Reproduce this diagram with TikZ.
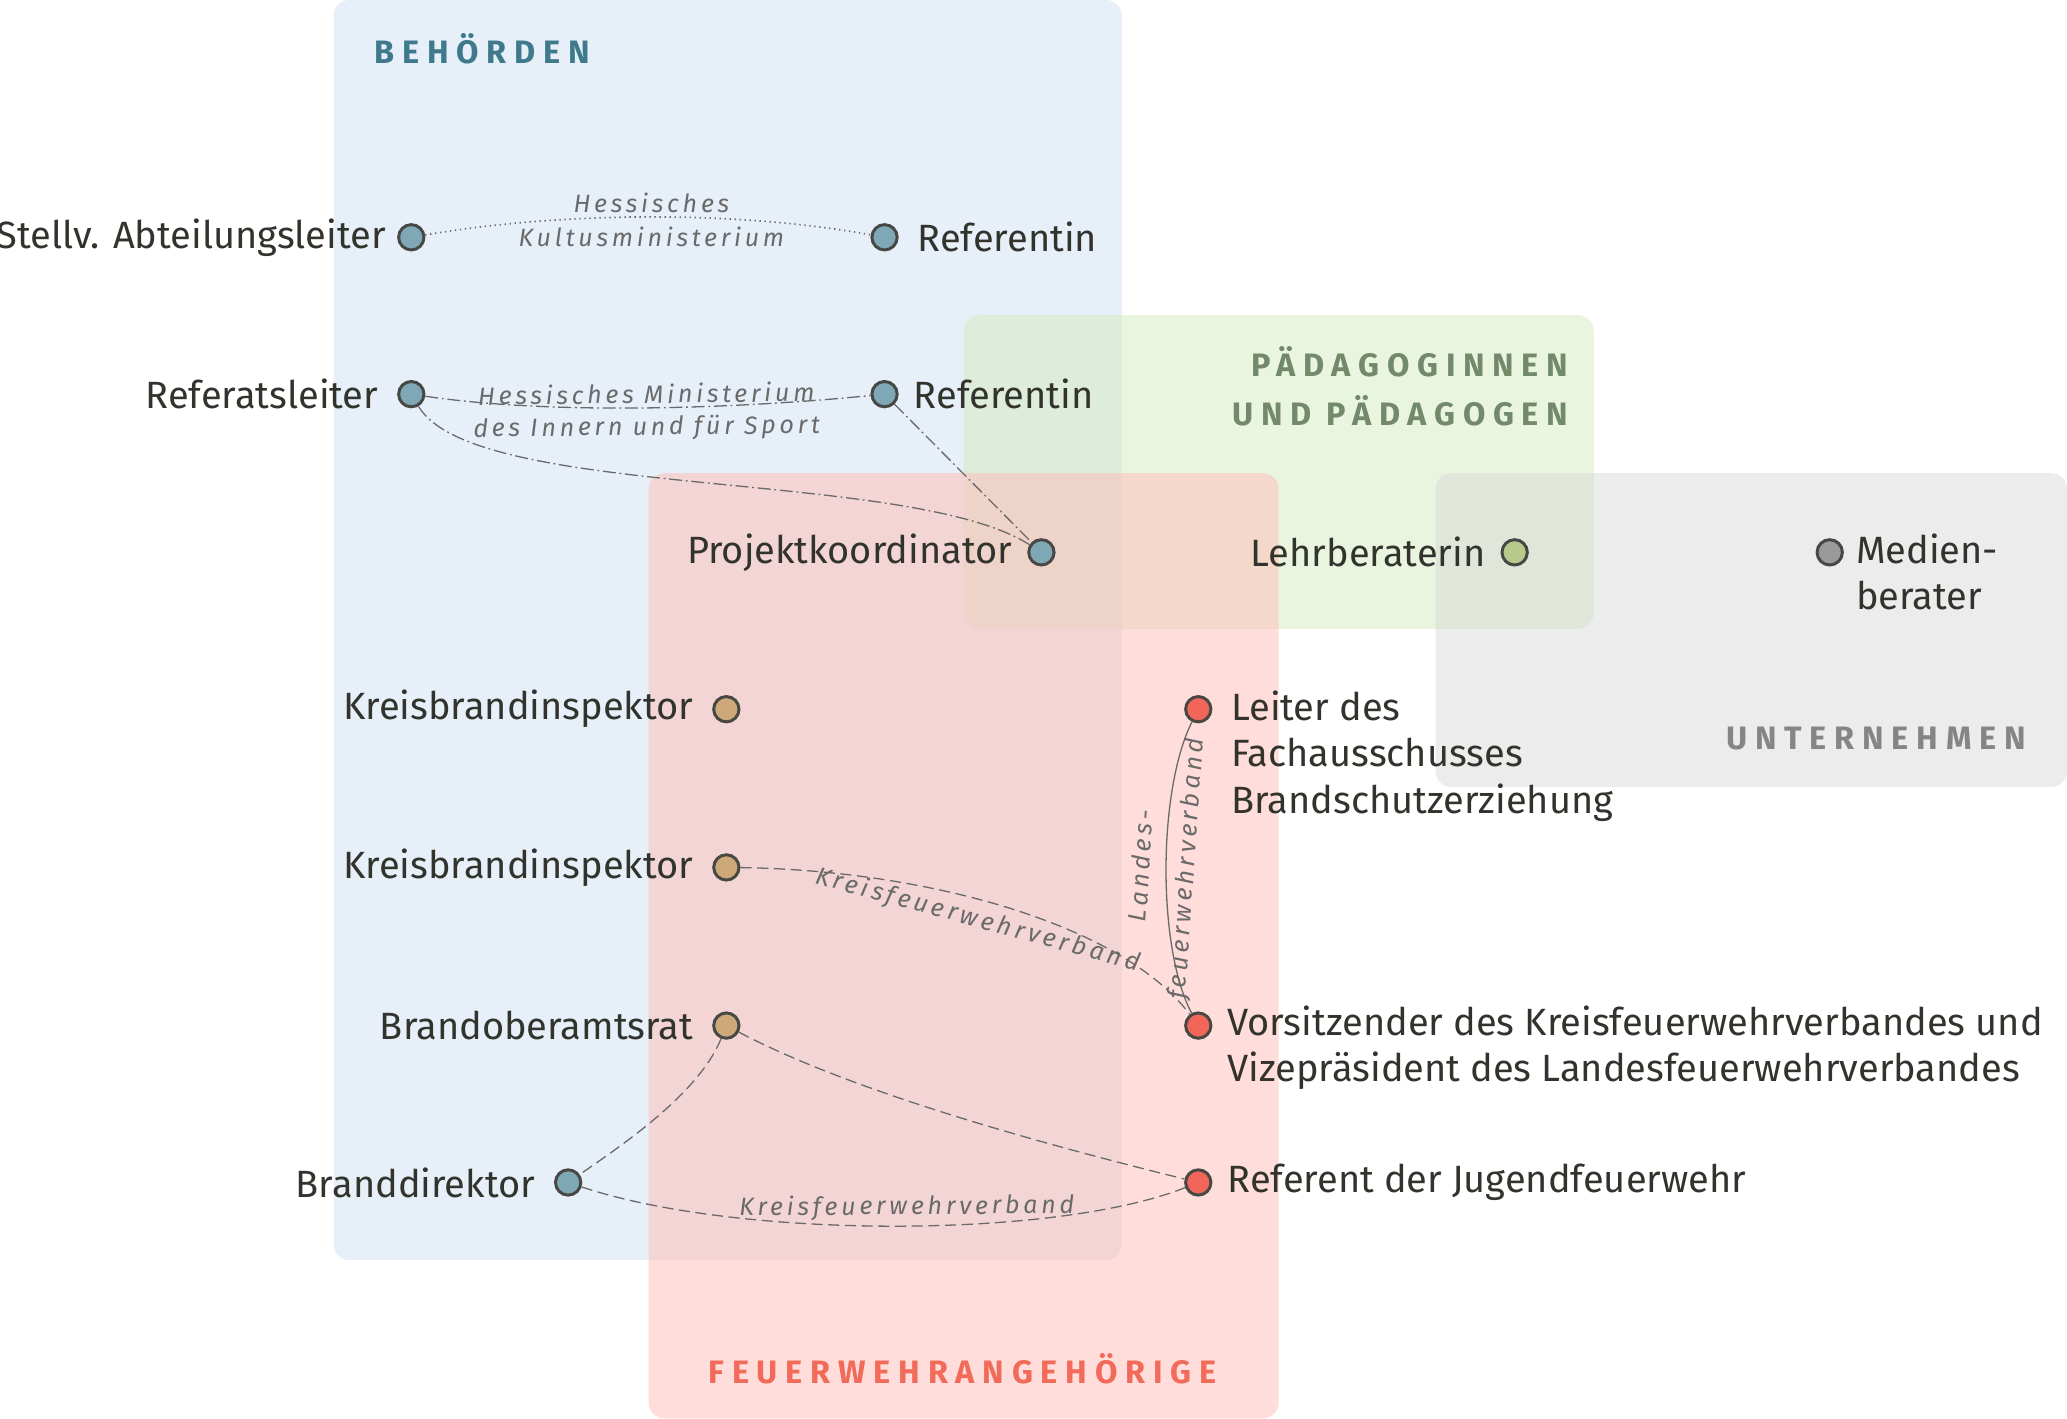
\documentclass[tikz,border=0pt]{standalone}
\usepackage{fontspec}
\setmainfont{Fira Sans}
\newfontfamily\ttl[LetterSpace=24]{Fira Sans}
\newfontfamily\elab[LetterSpace=15]{Fira Sans}
\usetikzlibrary{positioning}
\definecolor{txt}{HTML}{33332E}
\definecolor{bbox}{HTML}{E7EFF8}
\definecolor{gbox}{HTML}{D6EBBF}
\definecolor{rbox}{HTML}{FFBCB6}
\definecolor{ybox}{HTML}{D4D4D4}
\definecolor{cb}{HTML}{7FA8B6}
\definecolor{cg}{HTML}{B9C98C}
\definecolor{cy}{HTML}{9A9A9A}
\definecolor{ct}{HTML}{CDA97A}
\definecolor{cr}{HTML}{F2665A}
\definecolor{edge}{HTML}{6A6A6A}
\definecolor{tbc}{HTML}{3E7A8C}
\definecolor{tgc}{HTML}{72896A}
\definecolor{tyc}{HTML}{858585}
\definecolor{trc}{HTML}{F26A5A}
\begin{document}
\begin{tikzpicture}[x=0.025cm,y=-0.025cm,
  pt/.style={circle,draw=txt!90,line width=1.6pt,minimum size=0.48cm,inner sep=0pt},
  lab/.style={text=txt,font=\fontsize{20.5}{25}\selectfont,inner sep=2pt},
  el/.style={text=edge,font=\fontsize{13.5}{15}\selectfont\itshape\elab,inner sep=1pt},
  ed/.style={draw=edge,line width=0.7pt},
  dd/.style={dash pattern=on 7pt off 2pt on 1pt off 2pt},
  ds/.style={dash pattern=on 6pt off 3pt},
  box/.style={rounded corners=0.3cm},
  title/.style={font=\fontsize{17.5}{21}\selectfont\bfseries\ttl,inner sep=0pt}]
\useasboundingbox (0,0) rectangle (1568,1076);
\fill[box,bbox] (253,0) rectangle (851,956);
\fill[box,gbox,opacity=0.5] (731,239) rectangle (1209,477);
\fill[box,rbox,opacity=0.5] (492,359) rectangle (970,1076);
\fill[box,ybox,opacity=0.45] (1089,359) rectangle (1568,597);
\node[title,text=tbc,anchor=west] (tb) at (284,37) {BEHÖRDEN};
\node[title,text=tgc,anchor=east,align=right] (tg) at (1190,293) {PÄDAGOGINNEN\\[5pt]UND PÄDAGOGEN};
\node[title,text=tyc,anchor=east] (ty) at (1537,560) {UNTERNEHMEN};
\node[title,text=trc,anchor=center] (tr) at (730,1038) {FEUERWEHRANGEHÖRIGE};
% points
\node[pt,fill=cb] (a) at (312,180) {}; \node[lab,left=4pt of a] {Stellv. Abteilungsleiter};
\node[pt,fill=cb] (b) at (671,180) {}; \node[lab,right=8pt of b] {Referentin};
\node[pt,fill=cb] (c) at (312,299) {}; \node[lab,left=8pt of c] {Referatsleiter};
\node[pt,fill=cb] (d) at (671,299) {}; \node[lab,right=6pt of d] {Referentin};
\node[pt,fill=cb] (e) at (790,419) {}; \node[lab,left=6pt of e] {Projektkoordinator};
\node[pt,fill=cg] (f) at (1149,419) {}; \node[lab,left=6pt of f] {Lehrberaterin};
\node[pt,fill=cy] (g) at (1388,419) {}; \node[lab,anchor=north west,align=left] at (1405,402) {Medien-\\berater};
\node[pt,fill=ct] (h) at (551,538) {}; \node[lab,left=8pt of h] {Kreisbrandinspektor};
\node[pt,fill=ct] (i) at (551,658) {}; \node[lab,left=8pt of i] {Kreisbrandinspektor};
\node[pt,fill=ct] (j) at (551,778) {}; \node[lab,left=8pt of j] {Brandoberamtsrat};
\node[pt,fill=cb] (k) at (431,897) {}; \node[lab,left=8pt of k] {Branddirektor};
\node[pt,fill=cr] (l) at (909,538) {}; \node[lab,anchor=north west,align=left] at (931,521) {Leiter des\\Fachausschusses\\Brandschutzerziehung};
\node[pt,fill=cr] (m) at (909,778) {}; \node[lab,anchor=north west,align=left] at (928,760) {Vorsitzender des Kreisfeuerwehrverbandes und\\Vizepräsident des Landesfeuerwehrverbandes};
\node[pt,fill=cr] (n) at (909,897) {}; \node[lab,right=6pt of n] {Referent der Jugendfeuerwehr};
% edges
\draw[ed,dotted,line width=0.9pt] (a) .. controls (430,160) and (560,160) .. (b)
  node[el,pos=0.5,above=1pt] {Hessisches} node[el,pos=0.5,below=4pt] {Kultusministerium};
\draw[ed,dd] (c) .. controls (420,315) and (560,310) .. (d)
  node[el,pos=0.5,above=1pt,sloped] {Hessisches Ministerium} node[el,pos=0.5,below=3pt,sloped] {des Innern und für Sport};
\draw[ed,dd] (c) .. controls (360,380) and (690,355) .. (e);
\draw[ed,dd] (d) -- (e);
\draw[ed,ds] (i) .. controls (700,660) and (850,700) .. (m)
  node[el,pos=0.45,below=3pt,sloped] {Kreisfeuerwehrverband};
\draw[ed] (l) .. controls (878,600) and (878,720) .. (m);
\node[el,rotate=86,align=center] at (884,658) {Landes-\\[9pt]feuerwehrverband};
\draw[ed,ds] (j) .. controls (530,830) and (470,870) .. (k);
\draw[ed,ds] (j) .. controls (650,830) and (800,870) .. (n);
\draw[ed,ds] (k) .. controls (560,940) and (800,940) .. (n)
  node[el,pos=0.52,above=2pt,sloped] {Kreisfeuerwehrverband};
\end{tikzpicture}
\end{document}
